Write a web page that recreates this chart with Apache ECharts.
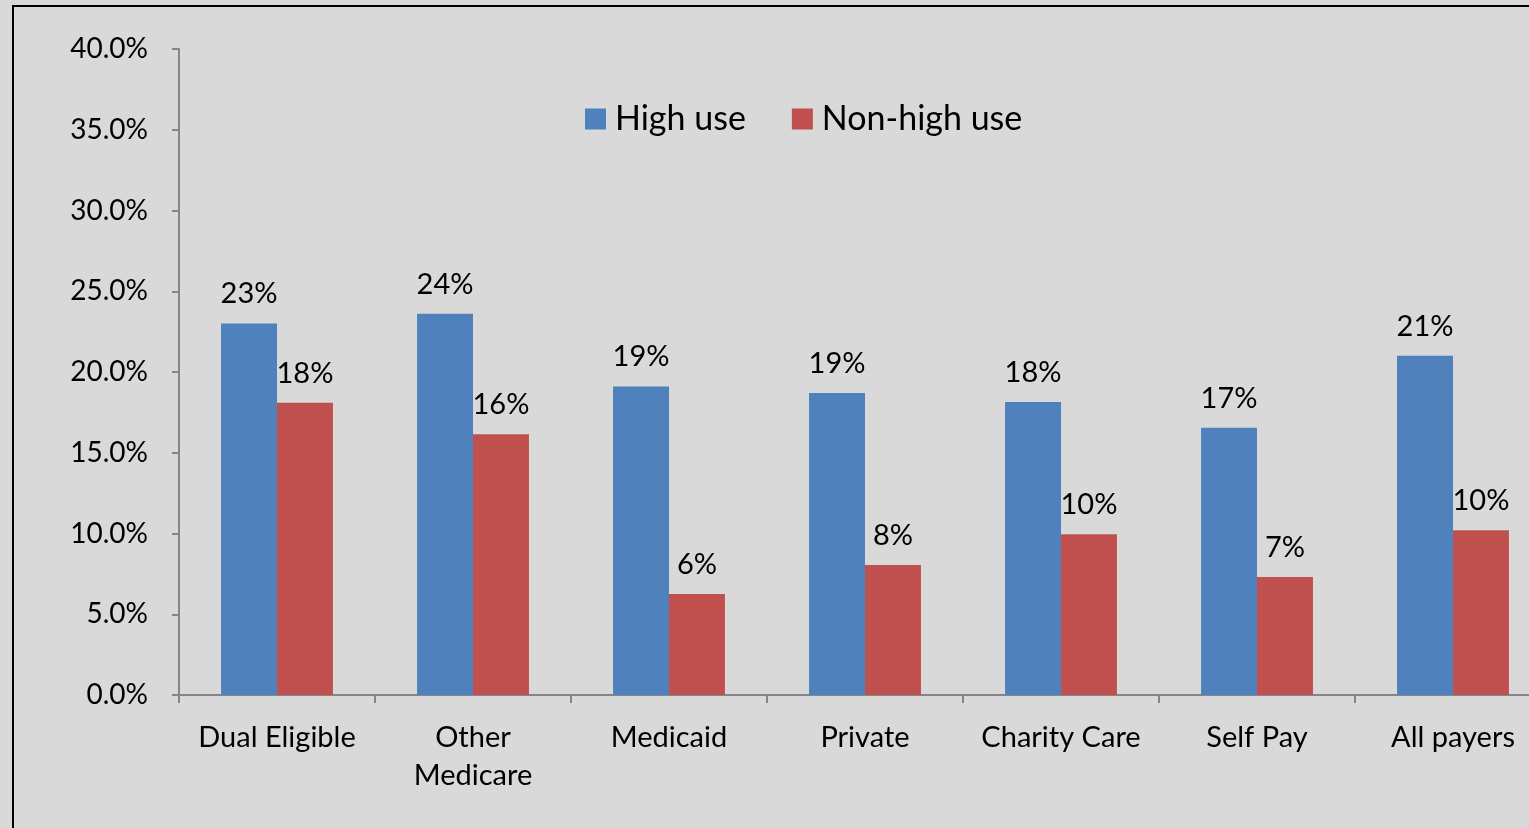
<!DOCTYPE html>
<html>
<head>
<meta charset="utf-8">
<script src="https://cdn.jsdelivr.net/npm/echarts@6/dist/echarts.min.js"></script>
<style>
html,body{margin:0;padding:0;background:#d9d9d9;}
#chart{width:1529px;height:828px;}
</style>
</head>
<body>
<div id="chart"></div>
<script>
const categories = ['Dual Eligible', 'Other\nMedicare', 'Medicaid', 'Private', 'Charity Care', 'Self Pay', 'All payers'];
const highUse = [23.0, 23.6, 19.1, 18.7, 18.15, 16.55, 21.0];
const nonHighUse = [18.1, 16.15, 6.25, 8.05, 9.95, 7.3, 10.2];
const seriesNames = ['High use', 'Non-high use'];
const yTicks = { min: 0, max: 40, interval: 5 };

const FONT = 'Lato';
const chart = echarts.init(document.getElementById('chart'), null, { renderer: 'canvas' });

const labelOpt = {
  show: true,
  position: 'top',
  distance: 15,
  color: '#000',
  fontFamily: FONT,
  fontSize: 29,
  formatter: p => Math.round(p.value) + '%'
};

chart.setOption({
  backgroundColor: '#d9d9d9',
  animation: false,
  textStyle: { fontFamily: FONT },
  graphic: [{
    type: 'rect',
    shape: { x: 13, y: 6, width: 1700, height: 1000 },
    style: { fill: 'none', stroke: '#000', lineWidth: 2 },
    silent: true,
    z: 100
  }],
  legend: {
    left: 580,
    top: 97,
    itemWidth: 21,
    itemHeight: 21,
    itemGap: 46,
    icon: 'rect',
    textStyle: { fontFamily: FONT, fontSize: 34, color: '#000', padding: [0, 0, 0, 4] },
    data: seriesNames
  },
  grid: { left: 179, top: 49, width: 1372, height: 646, containLabel: false, outerBoundsMode: 'none' },
  xAxis: {
    type: 'category',
    data: categories,
    axisLine: { show: true, lineStyle: { color: '#868686', width: 2 } },
    axisTick: { show: true, alignWithLabel: false, length: 8, lineStyle: { color: '#868686', width: 2 } },
    axisLabel: { color: '#000', fontFamily: FONT, fontSize: 29, lineHeight: 38, margin: 24, interval: 0 }
  },
  yAxis: {
    type: 'value',
    min: yTicks.min,
    max: yTicks.max,
    interval: yTicks.interval,
    splitLine: { show: false },
    axisLine: { show: true, lineStyle: { color: '#868686', width: 2 } },
    axisTick: { show: true, length: 7, lineStyle: { color: '#868686', width: 2 } },
    axisLabel: { color: '#000', fontFamily: FONT, fontSize: 28, margin: 31, formatter: v => v.toFixed(1) + '%' }
  },
  series: [
    {
      name: seriesNames[0],
      type: 'bar',
      data: highUse,
      itemStyle: { color: '#4f81bd' },
      barGap: '0%',
      barCategoryGap: '42.9%',
      label: labelOpt
    },
    {
      name: seriesNames[1],
      type: 'bar',
      data: nonHighUse,
      itemStyle: { color: '#c0504d' },
      barGap: '0%',
      barCategoryGap: '42.9%',
      label: labelOpt
    }
  ]
});
</script>
</body>
</html>
